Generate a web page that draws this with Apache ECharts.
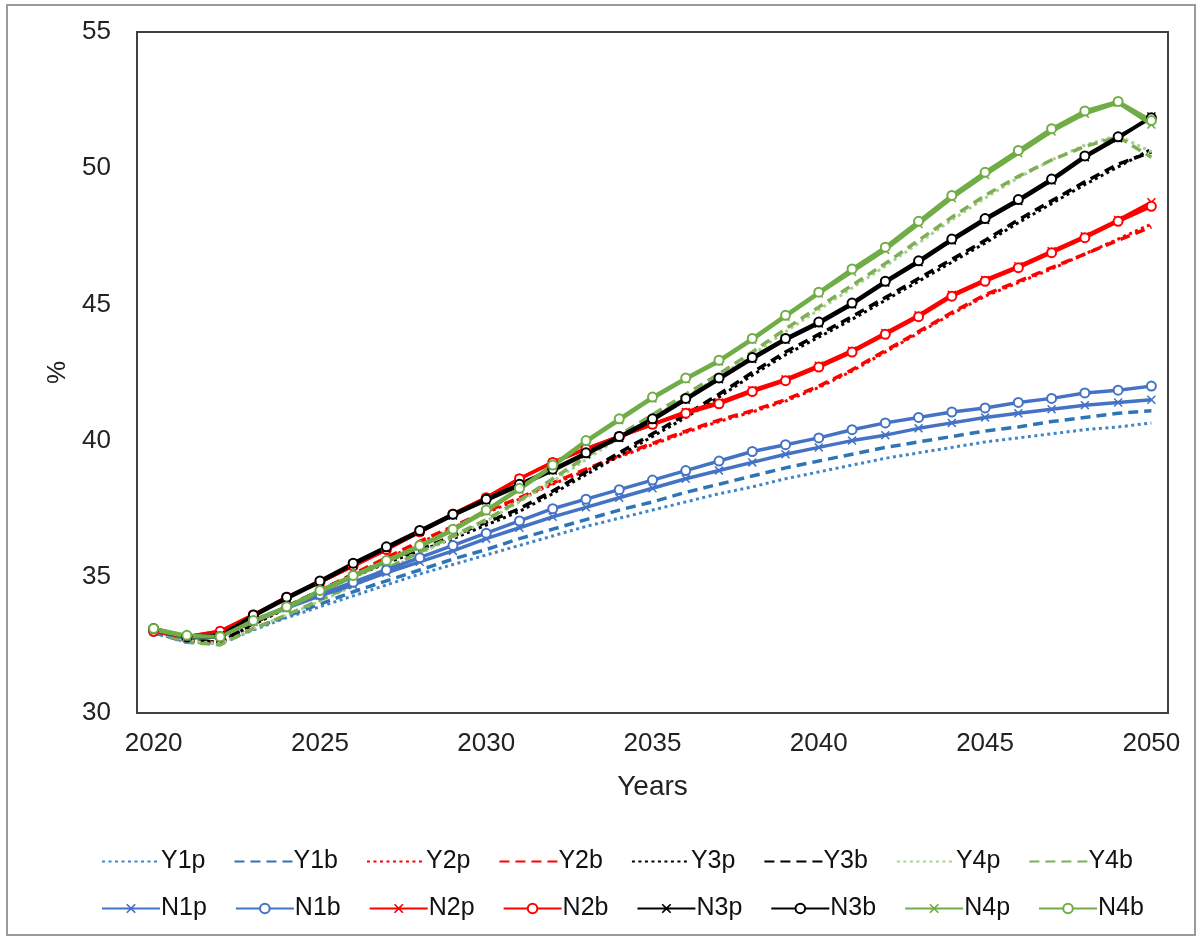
<!DOCTYPE html>
<html>
<head>
<meta charset="utf-8">
<script src="https://cdn.jsdelivr.net/npm/echarts@6/dist/echarts.min.js"></script>
<style>
html,body{margin:0;padding:0;background:#fff;}
#c{width:1203px;height:938px;}
</style>
</head>
<body>
<div id="c"></div>
<script>
const years = ['2020','2021','2022','2023','2024','2025','2026','2027','2028','2029','2030','2031','2032','2033','2034','2035','2036','2037','2038','2039','2040','2041','2042','2043','2044','2045','2046','2047','2048','2049','2050'];
const yTicks = [30, 35, 40, 45, 50, 55];

const Y1p = [32.95,32.6,32.55,33.05,33.5,33.9,34.3,34.7,35.1,35.45,35.8,36.15,36.5,36.85,37.15,37.45,37.75,38.05,38.3,38.6,38.85,39.1,39.35,39.55,39.75,39.95,40.1,40.25,40.4,40.5,40.65];
const Y1b = [32.95,32.6,32.55,33.1,33.55,34.0,34.45,34.85,35.25,35.65,36.0,36.4,36.75,37.1,37.45,37.75,38.1,38.4,38.7,39.0,39.25,39.5,39.75,39.95,40.15,40.35,40.5,40.7,40.85,41.0,41.1];
const Y2p = [33.0,32.7,32.6,33.25,33.85,34.45,35.05,35.65,36.25,36.8,37.35,37.85,38.4,38.9,39.4,39.85,40.3,40.7,41.05,41.45,41.95,42.55,43.25,43.95,44.65,45.3,45.8,46.3,46.85,47.4,47.95];
const Y2b = [33.0,32.7,32.6,33.3,33.9,34.5,35.1,35.7,36.3,36.85,37.4,37.9,38.45,38.95,39.45,39.9,40.35,40.75,41.1,41.5,42.0,42.6,43.3,44.0,44.7,45.35,45.85,46.35,46.85,47.35,47.85];
const Y3p = [33.0,32.65,32.6,33.25,33.85,34.45,35.0,35.5,35.95,36.4,36.9,37.4,38.05,38.75,39.45,40.15,40.85,41.6,42.4,43.15,43.8,44.45,45.15,45.85,46.55,47.25,48.0,48.7,49.4,50.05,50.7];
const Y3b = [33.0,32.65,32.6,33.3,33.9,34.5,35.05,35.6,36.0,36.5,37.0,37.5,38.15,38.85,39.55,40.25,40.95,41.7,42.5,43.25,43.9,44.55,45.25,45.95,46.65,47.35,48.1,48.8,49.5,50.15,50.6];
const Y4p = [33.0,32.65,32.55,33.1,33.6,34.1,34.65,35.25,35.85,36.45,37.05,37.75,38.5,39.3,40.1,40.85,41.6,42.35,43.15,44.0,44.8,45.6,46.4,47.25,48.1,48.9,49.65,50.3,50.85,51.2,50.6];
const Y4b = [33.0,32.6,32.5,33.1,33.6,34.15,34.7,35.3,35.9,36.5,37.1,37.8,38.6,39.4,40.2,40.95,41.7,42.45,43.25,44.1,44.9,45.7,46.5,47.35,48.2,49.0,49.7,50.3,50.8,51.15,50.4];
const N1p = [33.0,32.75,32.8,33.35,33.85,34.3,34.7,35.15,35.55,35.95,36.4,36.8,37.2,37.55,37.9,38.25,38.6,38.9,39.2,39.5,39.75,40.0,40.2,40.45,40.65,40.85,41.0,41.15,41.3,41.4,41.5];
const N1b = [33.0,32.75,32.8,33.4,33.9,34.35,34.8,35.25,35.7,36.15,36.6,37.05,37.5,37.85,38.2,38.55,38.9,39.25,39.6,39.85,40.1,40.4,40.65,40.85,41.05,41.2,41.4,41.55,41.75,41.85,42.0];
const N2p = [33.0,32.8,33.0,33.6,34.25,34.8,35.4,36.0,36.65,37.3,37.9,38.6,39.2,39.7,40.15,40.6,41.05,41.4,41.85,42.25,42.75,43.3,43.95,44.6,45.35,45.9,46.4,46.95,47.5,48.1,48.75];
const N2b = [33.0,32.8,33.0,33.6,34.25,34.8,35.4,36.0,36.65,37.3,37.9,38.6,39.2,39.7,40.15,40.6,41.0,41.35,41.8,42.2,42.7,43.25,43.9,44.55,45.3,45.85,46.35,46.9,47.45,48.05,48.6];
const N3p = [33.05,32.8,32.85,33.55,34.2,34.8,35.45,36.05,36.65,37.25,37.8,38.35,38.9,39.5,40.1,40.75,41.5,42.25,43.0,43.7,44.3,45.0,45.8,46.55,47.35,48.1,48.8,49.55,50.4,51.1,51.9];
const N3b = [33.1,32.8,32.8,33.6,34.25,34.85,35.5,36.1,36.7,37.3,37.85,38.4,38.95,39.55,40.15,40.8,41.55,42.3,43.05,43.75,44.35,45.05,45.85,46.6,47.4,48.15,48.85,49.6,50.45,51.15,51.85];
const N4p = [33.05,32.8,32.8,33.35,33.85,34.45,35.0,35.55,36.1,36.7,37.4,38.2,39.05,39.95,40.75,41.55,42.25,42.9,43.7,44.55,45.4,46.2,47.0,47.95,48.9,49.75,50.55,51.35,52.0,52.4,51.6];
const N4b = [33.1,32.85,32.8,33.4,33.9,34.5,35.05,35.6,36.15,36.75,37.45,38.25,39.1,40.0,40.8,41.6,42.3,42.95,43.75,44.6,45.45,46.3,47.1,48.05,49.0,49.85,50.65,51.45,52.1,52.45,51.75];

const yNames = ['Y1p','Y1b','Y2p','Y2b','Y3p','Y3b','Y4p','Y4b'];
const nNames = ['N1p','N1b','N2p','N2b','N3p','N3b','N4p','N4b'];

const X_SYMBOL = 'path://M0,1.2L1.2,0L5,3.8L8.8,0L10,1.2L6.2,5L10,8.8L8.8,10L5,6.2L1.2,10L0,8.8L3.8,5Z';
const DOT = [3, 3.5];
const DASH = [10, 6];

function yS(name, data, color, dash, width) {
  return {
    name: name, type: 'line', data: data, symbol: 'none', smooth: false,
    lineStyle: { color: color, width: width, type: dash, cap: 'butt' },
    itemStyle: { color: color }, z: 2
  };
}
function nS(name, data, color, sym) {
  const s = {
    name: name, type: 'line', data: data, smooth: false,
    lineStyle: { color: color, width: 3.5, type: 'solid' },
    z: 3
  };
  if (sym === 'x') {
    s.symbol = X_SYMBOL; s.symbolSize = 9;
    s.itemStyle = { color: color, borderWidth: 0 };
  } else {
    s.symbol = 'emptyCircle'; s.symbolSize = 9;
    s.itemStyle = { color: color, borderColor: color, borderWidth: 1.5 };
  }
  return s;
}

const series = [
  yS('Y1p', Y1p, '#3F86C8', DOT, 3),
  yS('Y1b', Y1b, '#2E75B6', DASH, 3.5),
  yS('Y2p', Y2p, '#FF0000', DOT, 3),
  yS('Y2b', Y2b, '#FF0000', DASH, 3.5),
  yS('Y3p', Y3p, '#000000', DOT, 3),
  yS('Y3b', Y3b, '#000000', DASH, 3.5),
  yS('Y4p', Y4p, '#A9D18E', DOT, 3),
  yS('Y4b', Y4b, '#7FAF55', DASH, 3.5),
  nS('N1p', N1p, '#4472C4', 'x'),
  nS('N1b', N1b, '#4472C4', 'o'),
  nS('N2p', N2p, '#FF0000', 'x'),
  nS('N2b', N2b, '#FF0000', 'o'),
  nS('N3p', N3p, '#000000', 'x'),
  nS('N3b', N3b, '#000000', 'o'),
  nS('N4p', N4p, '#70AD47', 'x'),
  nS('N4b', N4b, '#70AD47', 'o')
];

const legendCommon = {
  left: 96, itemWidth: 58, itemHeight: 12, itemGap: 28,
  textStyle: { fontSize: 25, color: '#111', fontFamily: 'Liberation Sans, Arial, sans-serif', padding: [0,0,0,-4] },
  orient: 'horizontal'
};

const chart = echarts.init(document.getElementById('c'), null, { renderer: 'canvas' });
chart.setOption({
  animation: false,
  backgroundColor: '#fff',
  textStyle: { fontFamily: 'Liberation Sans, Arial, sans-serif' },
  graphic: [{
    type: 'rect', shape: { x: 7, y: 5, width: 1188, height: 930 },
    style: { fill: 'none', stroke: '#9a9a9a', lineWidth: 2 }, silent: true
  }],
  grid: {
    left: 137, top: 32, right: 35, bottom: 225,
    show: true, borderColor: '#404040', borderWidth: 2, backgroundColor: 'transparent'
  },
  legend: [
    Object.assign({}, legendCommon, { top: 844, data: yNames.map(n => ({ name: n, itemStyle: { opacity: 0 } })) }),
    Object.assign({}, legendCommon, { top: 891, data: nNames.slice() })
  ],
  xAxis: {
    type: 'category', data: years, boundaryGap: true,
    name: 'Years', nameLocation: 'middle', nameGap: 60,
    nameTextStyle: { fontSize: 28, color: '#222' },
    axisLine: { show: true, lineStyle: { color: '#404040', width: 2 } },
    axisTick: { show: false },
    axisLabel: { interval: 4, fontSize: 26, color: '#222', margin: 18 },
    splitLine: { show: false }
  },
  yAxis: {
    type: 'value', min: yTicks[0], max: yTicks[yTicks.length - 1], interval: 5,
    name: '%', nameLocation: 'middle', nameGap: 66, nameRotate: 90,
    nameTextStyle: { fontSize: 26, color: '#222' },
    axisLine: { show: true, lineStyle: { color: '#404040', width: 2 } },
    axisTick: { show: false },
    axisLabel: { fontSize: 26, color: '#222', margin: 26 },
    splitLine: { show: false }
  },
  series: series
});
</script>
</body>
</html>
